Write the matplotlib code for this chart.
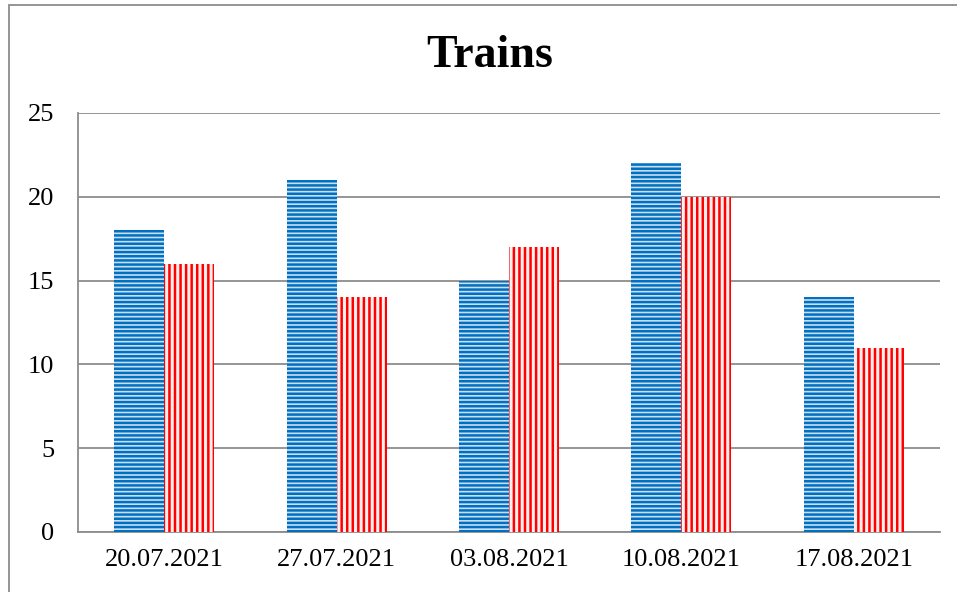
import matplotlib.pyplot as plt
import matplotlib.patches as mpatches
import numpy as np

plt.rcParams['font.family'] = ['Liberation Serif', 'DejaVu Serif']
plt.rcParams['hatch.linewidth'] = 1.8

dates = ['20.07.2021', '27.07.2021', '03.08.2021', '10.08.2021', '17.08.2021']
series_a = [18, 21, 15, 22, 14]
series_b = [16, 14, 17, 20, 11]

fig = plt.figure(figsize=(9.57, 5.92), dpi=100)
ax = fig.add_axes([78 / 957, 60 / 592, 862 / 957, 419 / 592])

x = np.arange(len(dates))
w = 0.29

ax.bar(x - w / 2, series_a, w, color='#c9def2', edgecolor='#0070C0',
       hatch='----', linewidth=0, zorder=3)
ax.bar(x + w / 2, series_b, w, color='#fff0f0', edgecolor='#FF0000',
       hatch='|||', linewidth=0, zorder=3)

ax.set_xlim(-0.5, len(dates) - 0.5)
ax.set_ylim(0, 25)
ax.set_yticks(range(0, 26, 5))
ax.set_xticks(x)
ax.set_xticklabels(dates)
ax.tick_params(axis='both', labelsize=19, length=0)
ax.tick_params(axis='y', pad=17)
ax.tick_params(axis='x', pad=12)
ax.yaxis.grid(True, color='#8c8c8c', linewidth=1.3, zorder=0)

for side in ['top', 'right']:
    ax.spines[side].set_visible(False)
for side in ['left', 'bottom']:
    ax.spines[side].set_color('#8c8c8c')
    ax.spines[side].set_linewidth(1.3)

fig.text(0.512, 0.905, 'Trains', ha='center', va='center',
         fontsize=33, fontweight='bold')

# outer chart border
fig.patches.append(mpatches.Rectangle((9 / 957, -0.1), 1.1, (592 - 5) / 592 + 0.1,
                                      transform=fig.transFigure, fill=False,
                                      edgecolor='#8c8c8c', linewidth=1.3))

fig.savefig('out.png', dpi=100)
